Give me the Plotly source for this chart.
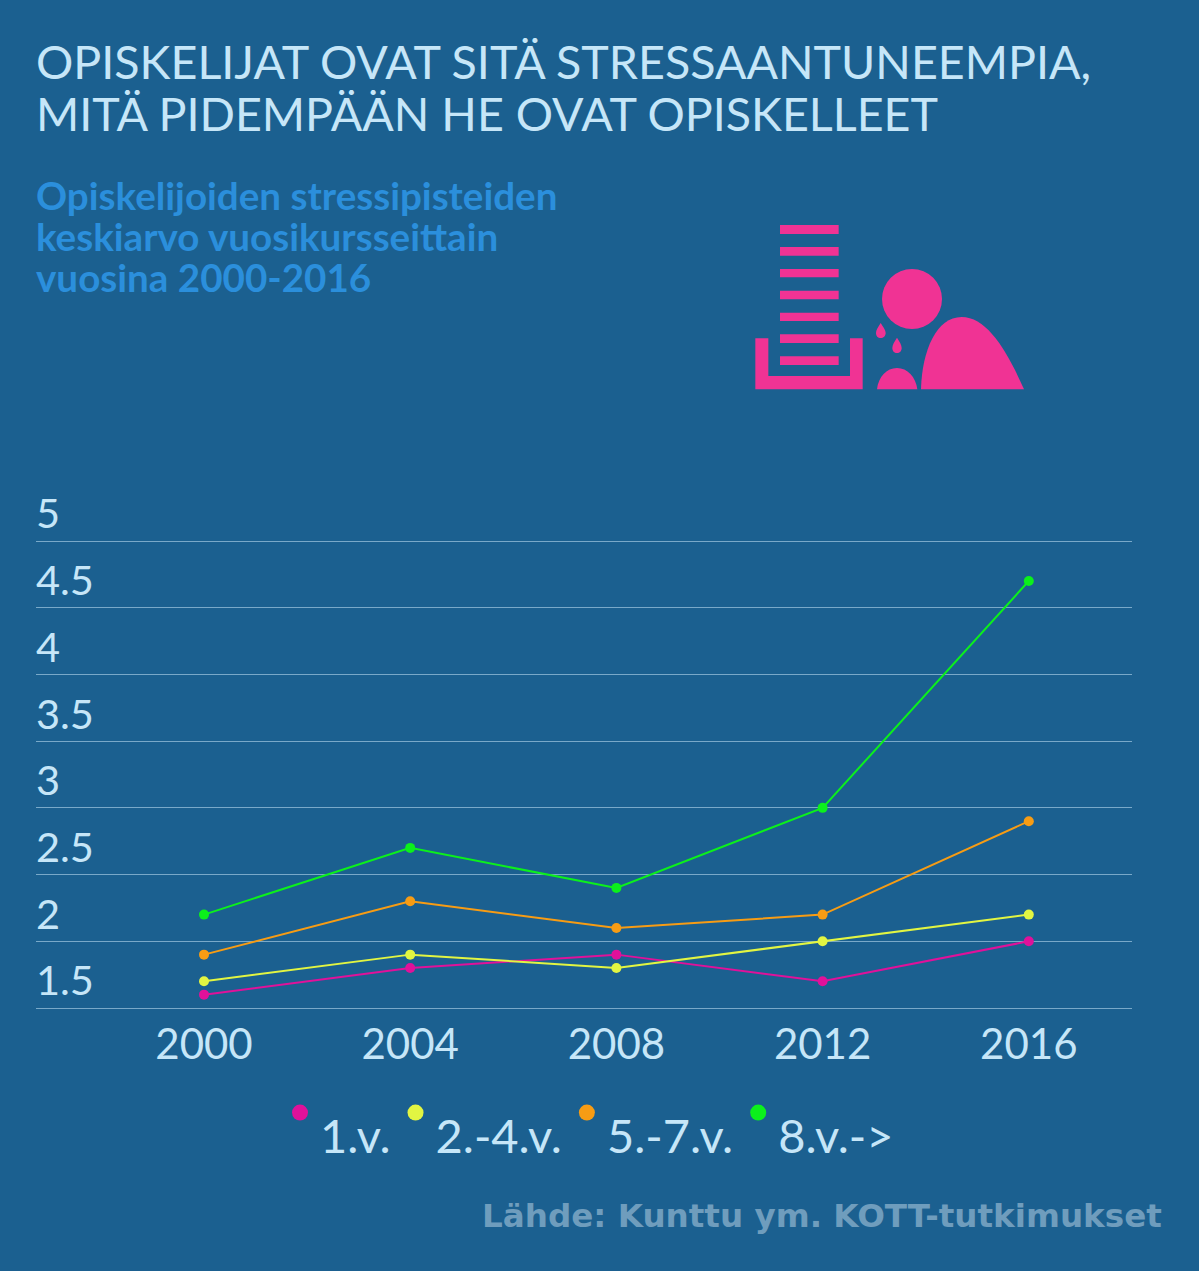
import plotly.graph_objects as go

years = ["2000", "2004", "2008", "2012", "2016"]
series_names = ["1.v.", "2.-4.v.", "5.-7.v.", "8.v.->"]
first_year = [1.6, 1.8, 1.9, 1.7, 2.0]
years_2_4 = [1.7, 1.9, 1.8, 2.0, 2.2]
years_5_7 = [1.9, 2.3, 2.1, 2.2, 2.9]
years_8_up = [2.2, 2.7, 2.4, 3.0, 4.7]
y_ticks = [1.5, 2, 2.5, 3, 3.5, 4, 4.5, 5]
colors = ["#e0119a", "#e2f542", "#f79c14", "#0cf01c"]
all_values = [first_year, years_2_4, years_5_7, years_8_up]

BG = "#1b6090"
TXT = "#c6e6f8"
FONT = "Lato"
L, R, T, B = 36, 1132, 440, 1012
UNIT = (1008 - 541) / 3.5  # pixels per y unit
STEP = 206.2


def fx(p):
    return (p - L) / (R - L)


def fy(p):
    return (B - p) / (B - T)


def sized(lines, size):
    return "<br>".join(f'<span style="font-size:{size}px">{t}</span>' for t in lines)


fig = go.Figure()
for name, vals, col in zip(series_names, all_values, colors):
    fig.add_trace(go.Scatter(x=years, y=vals, mode="lines+markers", showlegend=False,
                             line=dict(color=col, width=2),
                             marker=dict(color=col, size=10, line=dict(color="#1b6090", width=0))))
for name, col in zip(series_names, colors):
    fig.add_trace(go.Scatter(x=[None], y=[None], mode="markers", name="<br>" + sized([name], 47),
                             marker=dict(color=col, size=17)))

PINK = "#f03394"


def zx(z):
    return fx(740 + z / 3)


def zy(z):
    return fy(210 + z / 3)


def path(cmds):
    out = []
    for c in cmds:
        out.append(c[0] + " ".join(f"{zx(c[i])},{zy(c[i + 1])}" for i in range(1, len(c), 2)))
    return " ".join(out) + " Z"


shapes = []
for top, bot in [(45, 72), (111, 137), (177, 202), (242, 268), (308, 333), (373, 399), (439, 465)]:
    shapes.append(dict(type="rect", xref="paper", yref="paper", x0=zx(120), x1=zx(296), y0=zy(bot), y1=zy(top),
                       fillcolor=PINK, line_width=0))
tray = [("M", 46, 385), ("L", 85, 385), ("L", 85, 498), ("L", 330, 498), ("L", 330, 385), ("L", 368, 385),
        ("L", 368, 538), ("L", 46, 538)]
mound = [("M", 411, 538), ("C", 415, 500, 440, 474, 471, 474), ("C", 502, 474, 527, 500, 532, 538)]
body = [("M", 543, 538), ("C", 546, 420, 590, 321, 665, 321), ("C", 740, 321, 800, 420, 852, 538)]
drop1 = [("M", 422, 339), ("C", 430, 352, 437, 360, 437, 369), ("C", 437, 378, 430, 384, 422, 384),
         ("C", 414, 384, 408, 378, 408, 369), ("C", 408, 360, 414, 352, 422, 339)]
drop2 = [("M", 471, 383), ("C", 479, 396, 485, 404, 485, 414), ("C", 485, 423, 479, 429, 471, 429),
         ("C", 463, 429, 457, 423, 457, 414), ("C", 457, 404, 463, 396, 471, 383)]
for cmds in [tray, mound, body, drop1, drop2]:
    shapes.append(dict(type="path", xref="paper", yref="paper", path=path(cmds), fillcolor=PINK, line_width=0))
shapes.append(dict(type="circle", xref="paper", yref="paper", x0=zx(426), x1=zx(606), y0=zy(357), y1=zy(177),
                   fillcolor=PINK, line_width=0))

fig.update_layout(
    width=1199, height=1271,
    margin=dict(l=L, r=1199 - R, t=T, b=1271 - B, pad=0),
    paper_bgcolor=BG, plot_bgcolor=BG,
    font=dict(family=FONT, color=TXT),
    title=dict(text=sized(["OPISKELIJAT OVAT SITÄ STRESSAANTUNEEMPIA,", "MITÄ PIDEMPÄÄN HE OVAT OPISKELLEET"], 46.6),
               x=36 / 1199, xanchor="left", xref="container", y=1 - 79 / 1271, yanchor="top",
               font=dict(size=40, color=TXT)),
    xaxis=dict(type="category", range=[(L - 204) / STEP, (R - 204) / STEP], showgrid=False, zeroline=False,
               showline=False, ticks="", tickfont=dict(size=42, color=TXT), ticklabelstandoff=4),
    yaxis=dict(range=[1.5 - (B - 1008) / UNIT, 5 + (541 - T) / UNIT], tickvals=y_ticks,
               ticktext=[f"{v:g}" for v in y_ticks],
               ticklabelposition="inside top", ticklabelstandoff=-3, ticklabelshift=2,
               tickfont=dict(size=41.5, color=TXT),
               showgrid=True, gridcolor="rgba(198,230,248,0.55)", gridwidth=1, zeroline=False, showline=False,
               ticks=""),
    legend=dict(orientation="h", x=fx(280), xanchor="left", y=fy(1056), yanchor="top",
                font=dict(size=38.5, color=TXT), bgcolor="rgba(0,0,0,0)", itemwidth=30),
    shapes=shapes,
    annotations=[
        dict(text="<b>" + sized(["Opiskelijoiden stressipisteiden", "keskiarvo vuosikursseittain", "vuosina 2000-2016"], 38.6) + "</b>",
             xref="paper", yref="paper", x=0, xshift=-1, y=fy(171), xanchor="left", yanchor="top", align="left",
             showarrow=False, borderpad=0, font=dict(family=FONT, size=31.5, color="#2b8fdc")),
        dict(text="<b>Lähde: Kunttu ym. KOTT-tutkimukset</b>",
             xref="paper", yref="paper", x=fx(1163), y=fy(1236), xanchor="right", yanchor="bottom", align="right",
             showarrow=False, borderpad=0, font=dict(family="DejaVu Sans", size=32.6, color="#6f9dbd")),
    ],
)

fig.write_html("out.html", config=dict(displayModeBar=False),
               post_script="document.body.style.margin='0';document.body.style.background='#1b6090';document.documentElement.style.overflow='hidden';")
